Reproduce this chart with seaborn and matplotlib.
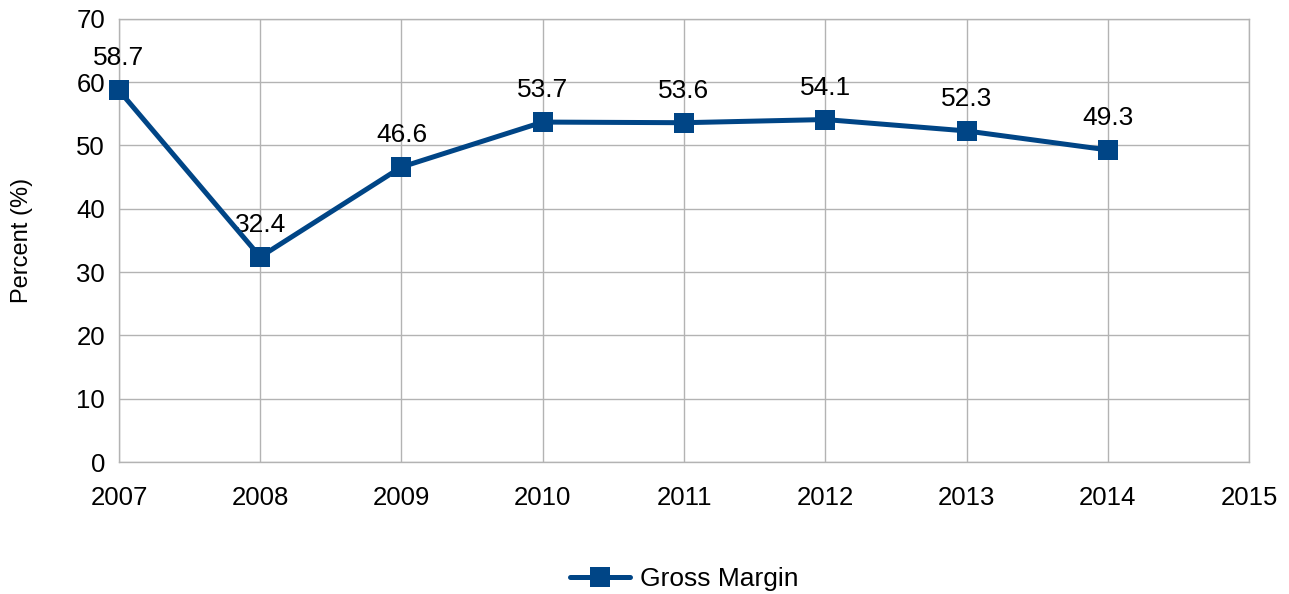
import pandas as pd
import matplotlib
matplotlib.use("Agg")
import matplotlib.pyplot as plt
import seaborn as sns

years = [2007, 2008, 2009, 2010, 2011, 2012, 2013, 2014]
gross_margin = [58.7, 32.4, 46.6, 53.7, 53.6, 54.1, 52.3, 49.3]
x_ticks = [2007, 2008, 2009, 2010, 2011, 2012, 2013, 2014, 2015]
y_ticks = [0, 10, 20, 30, 40, 50, 60, 70]

df = pd.DataFrame({"Year": years, "Gross Margin": gross_margin})

sns.set_style("white")
plt.rcParams["font.family"] = ["Liberation Sans", "DejaVu Sans"]
plt.rcParams["text.color"] = "black"

fig = plt.figure(figsize=(12.89, 5.94), dpi=100)
ax = fig.add_axes([0.0923, 0.2222, 0.8767, 0.746])

color = "#004586"
sns.lineplot(data=df, x="Year", y="Gross Margin", ax=ax, color=color,
             linewidth=3.6, marker="s", markersize=15, markeredgewidth=0,
             label="Gross Margin", clip_on=False, zorder=5)

for x, y in zip(years, gross_margin):
    ax.annotate(f"{y:.1f}", (x, y), xytext=(0, 23), textcoords="offset points",
                ha="center", va="center", fontsize=19, color="black")

ax.set_xlim(2007, 2015)
ax.set_ylim(0, 70)
ax.set_xticks(x_ticks)
ax.set_yticks(y_ticks)
ax.grid(True, color="#b3b3b3", linewidth=1)
for s in ax.spines.values():
    s.set_color("#b3b3b3")
    s.set_linewidth(1)
ax.tick_params(axis="both", length=7, width=1, color="#b3b3b3",
               labelsize=18.5, labelcolor="black")
ax.tick_params(axis="x", pad=10)
ax.tick_params(axis="y", pad=3)
ax.set_xlabel("")
ax.set_ylabel("Percent (%)", fontsize=17, labelpad=31, color="black")

leg = ax.legend(loc="center", bbox_to_anchor=(0.5, -0.265), frameon=False,
                fontsize=19, handlelength=2.3, handletextpad=0.35)
for t in leg.get_texts():
    t.set_color("black")

fig.savefig("out.png", dpi=100)
